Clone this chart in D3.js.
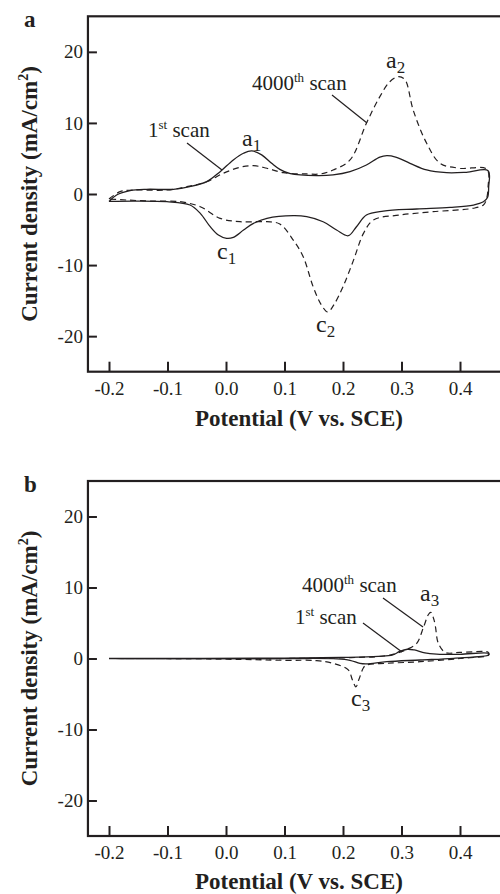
<!DOCTYPE html>
<html>
<head>
<meta charset="utf-8">
<title>CV scans</title>
<style>
body {
    margin: 0px;
    overflow: hidden;
    background: #fff;
}
text {
    font-family: "Liberation Serif", "Times New Roman", serif;
    fill: #231f20;
}
</style>
<script src="https://cdnjs.cloudflare.com/ajax/libs/d3/7.8.5/d3.min.js"></script>
</head>
<body>
<div id="chart"></div>
<script>

// potential (V vs SCE) and current density (mA/cm2)
var xTicks = [-0.2, -0.1, 0.0, 0.1, 0.2, 0.3, 0.4];
var yTicks = [-20, -10, 0, 10, 20];

var aFirstScan = [
    [-0.2, -1.05], [-0.187, -0.14], [-0.164, 0.47], [-0.136, 0.66], [-0.09, 0.66],
    [-0.062, 1.03], [-0.033, 1.73], [-0.01, 3.14], [0.0125, 4.79], [0.03, 5.73],
    [0.044, 6.06], [0.061, 5.5], [0.078, 4.32], [0.092, 3.47], [0.11, 2.85],
    [0.155, 2.58], [0.183, 2.68], [0.212, 3.14], [0.24, 4.08], [0.263, 5.2],
    [0.275, 5.4], [0.29, 5.2], [0.3145, 4.32], [0.343, 3.38], [0.377, 3.0],
    [0.411, 3.05], [0.448, 3.28], [0.449, 1.0], [0.447, -0.5], [0.44, -1.1],
    [0.423, -1.55], [0.383, -1.88], [0.326, -2.11], [0.269, -2.4], [0.24, -2.96],
    [0.223, -4.6], [0.209, -5.87], [0.189, -5.07], [0.166, -3.9], [0.138, -3.19],
    [0.115, -3.05], [0.07, -3.43], [0.047, -4.13], [0.03, -5.07], [0.0125, -6.1],
    [0.001, -6.24], [-0.013, -5.77], [-0.027, -4.6], [-0.044, -2.72], [-0.0615, -1.55],
    [-0.101, -1.08], [-0.158, -0.99], [-0.2, -1.05]
];

var aLastScan = [
    [-0.2, -0.7], [-0.181, 0.33], [-0.16, 0.55], [-0.101, 0.56], [-0.067, 1.03],
    [-0.033, 1.73], [-0.005, 2.9], [0.024, 3.76], [0.047, 3.99], [0.07, 3.62],
    [0.098, 3.0], [0.138, 2.82], [0.161, 2.82], [0.183, 3.38], [0.212, 4.79],
    [0.24, 9.95], [0.263, 13.7], [0.28, 15.8], [0.295, 16.5], [0.306, 16.06],
    [0.32, 11.8], [0.343, 7.14], [0.366, 4.32], [0.4, 3.62], [0.446, 3.47],
    [0.448, 1.0], [0.445, -0.8], [0.44, -1.55], [0.423, -2.0], [0.354, -2.49],
    [0.297, -2.96], [0.252, -3.66], [0.235, -5.54], [0.218, -9.3], [0.2, -13.05],
    [0.185, -15.5], [0.174, -16.6], [0.163, -15.6], [0.149, -13.05], [0.132, -8.83],
    [0.115, -6.48], [0.092, -4.22], [0.07, -3.9], [0.024, -3.9], [-0.01, -3.43],
    [-0.044, -1.79], [-0.079, -1.08], [-0.13, -0.99], [-0.17, -0.85], [-0.2, -0.7]
];

var bFirstScan = [
    [-0.2, 0], [0.1, 0.05], [0.2, 0.15], [0.26, 0.3], [0.285, 0.5],
    [0.297, 1.0], [0.31, 1.3], [0.322, 1.2], [0.34, 0.8], [0.36, 0.63],
    [0.4, 0.59], [0.448, 0.73], [0.449, 0.5], [0.389, 0.03], [0.332, -0.21],
    [0.275, -0.45], [0.24, -0.77], [0.229, -0.7], [0.212, -0.25], [0.19, -0.05],
    [0.1, 0], [-0.2, 0]
];

var bLastScan = [
    [-0.2, 0], [0.1, 0.0], [0.2, 0.1], [0.27, 0.35], [0.292, 0.73],
    [0.31, 1.3], [0.326, 2.14], [0.338, 4.5], [0.346, 6.2], [0.35, 6.5],
    [0.355, 5.6], [0.358, 4.5], [0.363, 2.14], [0.375, 0.85], [0.4, 0.85],
    [0.448, 0.87], [0.449, 0.5], [0.4, 0.0], [0.332, -0.45], [0.275, -0.68],
    [0.24, -0.92], [0.235, -1.3], [0.227, -3.0], [0.222, -4.0], [0.216, -3.0],
    [0.209, -1.6], [0.183, -0.68], [0.155, -0.3], [0.1, -0.25], [0.0, -0.1],
    [-0.2, 0]
];

var width = 500, height = 894;

var svg = d3.select("#chart").append("svg")
    .attr("width", width)
    .attr("height", height);

function drawPanel(opt) {
    var x = d3.scaleLinear().domain([-0.2, 0.4]).range([109, 460]);
    var y = d3.scaleLinear().domain([-25, 25]).range([opt.bottom, opt.top]);
    var g = svg.append("g");

    var xAxis = d3.axisBottom(x).tickValues(xTicks).tickSizeInner(-10).tickSizeOuter(0)
        .tickPadding(10).tickFormat(d3.format(".1f"));
    var yAxis = d3.axisLeft(y).tickValues(yTicks).tickSizeInner(-9).tickSizeOuter(0)
        .tickPadding(5);

    var gx = g.append("g").attr("transform", "translate(0," + y(-25) + ")").call(xAxis);
    var gy = g.append("g").attr("transform", "translate(" + x(-0.236) + ",0)").call(yAxis);
    [gx, gy].forEach(function (a) {
        a.select(".domain").remove();
        a.selectAll(".tick line").attr("stroke", "#231f20").attr("stroke-width", 2);
        a.selectAll(".tick text").attr("font-size", 19)
            .attr("font-family", "Liberation Serif, serif").attr("fill", "#231f20");
    });
    gx.selectAll(".tick text").text(function (d) { return d3.format(".1f")(d).replace("−", "-"); });
    gy.selectAll(".tick text").text(function (d) { return String(d); });

    // frame (right side runs past the window)
    g.append("rect")
        .attr("x", x(-0.236)).attr("y", y(25))
        .attr("width", 520 - x(-0.236)).attr("height", y(-25) - y(25))
        .attr("fill", "none").attr("stroke", "#231f20").attr("stroke-width", 2.2);

    var line = d3.line()
        .x(function (d) { return x(d[0]); })
        .y(function (d) { return y(d[1]); })
        .curve(d3.curveCatmullRom.alpha(0.5));

    g.append("path").datum(opt.first).attr("d", line)
        .attr("fill", "none").attr("stroke", "#231f20").attr("stroke-width", 1.3);
    g.append("path").datum(opt.last).attr("d", line)
        .attr("fill", "none").attr("stroke", "#231f20").attr("stroke-width", 1.2)
        .attr("stroke-dasharray", "6,4");

    // panel letter
    g.append("text").attr("x", 24).attr("y", opt.top + 11)
        .attr("font-size", 23).attr("font-weight", "bold").text(opt.letter);

    // axis titles
    g.append("text").attr("x", 299).attr("y", opt.titleY)
        .attr("text-anchor", "middle").attr("font-size", 23).attr("font-weight", "bold")
        .text("Potential (V vs. SCE)");
    var yt = g.append("text")
        .attr("transform", "translate(37," + y(0) + ") rotate(-90)")
        .attr("text-anchor", "middle").attr("font-size", 23).attr("font-weight", "bold");
    yt.append("tspan").text("Current density (mA/cm");
    yt.append("tspan").attr("font-size", 14).attr("dy", -9).text("2");
    yt.append("tspan").attr("dy", 9).text(")");

    // scan labels with leaders
    opt.scans.forEach(function (s) {
        var t = g.append("text").attr("x", s.x).attr("y", s.y).attr("font-size", 21);
        t.append("tspan").text(s.num);
        t.append("tspan").attr("font-size", 13).attr("dy", -8).text(s.sup);
        t.append("tspan").attr("dy", 8).text(" scan");
        g.append("line").attr("x1", s.lx1).attr("y1", s.ly1).attr("x2", s.lx2).attr("y2", s.ly2)
            .attr("stroke", "#231f20").attr("stroke-width", 1.2);
    });

    // peak labels
    opt.peaks.forEach(function (p) {
        var t = g.append("text").attr("x", p.x).attr("y", p.y).attr("font-size", 24);
        t.append("tspan").text(p.c);
        t.append("tspan").attr("font-size", 17).attr("dy", 5).text(p.n);
    });
}

drawPanel({
    top: 16.3, bottom: 371.7, letter: "a", titleY: 426,
    first: aFirstScan, last: aLastScan,
    scans: [
        { num: "1", sup: "st", x: 148, y: 137, lx1: 187, ly1: 143, lx2: 222, ly2: 170 },
        { num: "4000", sup: "th", x: 252, y: 90, lx1: 332, ly1: 95, lx2: 367, ly2: 123 }
    ],
    peaks: [
        { c: "a", n: "1", x: 242, y: 146 },
        { c: "a", n: "2", x: 386, y: 68 },
        { c: "c", n: "1", x: 217, y: 259 },
        { c: "c", n: "2", x: 316, y: 332 }
    ]
});

drawPanel({
    top: 481, bottom: 836, letter: "b", titleY: 889,
    first: bFirstScan, last: bLastScan,
    scans: [
        { num: "4000", sup: "th", x: 302, y: 592, lx1: 383, ly1: 598, lx2: 423, ly2: 627 },
        { num: "1", sup: "st", x: 295, y: 624, lx1: 363, ly1: 623, lx2: 402, ly2: 652 }
    ],
    peaks: [
        { c: "a", n: "3", x: 420, y: 601 },
        { c: "c", n: "3", x: 351, y: 706 }
    ]
});

</script>
</body>
</html>
